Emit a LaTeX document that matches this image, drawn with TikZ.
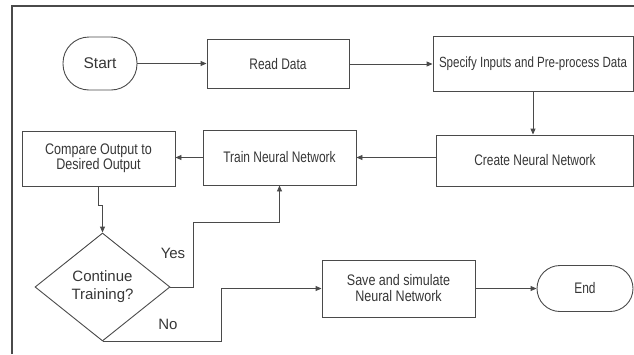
\documentclass[tikz,border=0pt]{standalone}
\usepackage{fontspec}
\setmainfont{Liberation Sans}
\newfontfamily\narrowf{Liberation Sans}[FakeStretch=0.78]
\newfontfamily\narrowg{Liberation Sans}[FakeStretch=0.82]
\usetikzlibrary{arrows.meta,shapes.geometric}
\definecolor{linec}{HTML}{4A4A4A}
\definecolor{textc}{HTML}{363636}
\tikzset{
  box/.style={draw=linec, line width=0.9pt, rectangle, inner sep=0pt, align=center, text=textc,
    font=\narrowf\fontsize{15.3}{16}\selectfont},
  term/.style={box, rounded corners=23pt, font=\fontsize{15.5}{18}\selectfont},
  decis/.style={draw=linec, line width=0.9pt, diamond, aspect=1.25, inner sep=0pt, align=center, text=textc,
    minimum width=135pt, minimum height=108pt, font=\fontsize{15}{18}\selectfont},
  conn/.style={draw=linec, line width=0.9pt, -{Triangle[length=6pt,width=5pt]}},
  lbl/.style={text=textc, font=\fontsize{15}{18}\selectfont, inner sep=0pt}
}
\begin{document}
\begin{tikzpicture}[x=1pt,y=-1pt]
\useasboundingbox (0,0) rectangle (634,354);
\draw[linec, line width=1.1pt] (12,354) -- (12,6) -- (634,6);
\node[term, minimum width=74pt, minimum height=53pt, rounded corners=26pt] (start) at (100,63.5) {Start};
\node[box, minimum width=142pt, minimum height=49pt] (read) at (278,64) {Read Data};
\node[box, minimum width=200pt, minimum height=55pt, font=\narrowf\fontsize{14.8}{16}\selectfont] (spec) at (533,63.5) {Specify Inputs and Pre-process Data};
\node[box, minimum width=197pt, minimum height=51pt] (create) at (535,160.5) {Create Neural Network};
\node[box, minimum width=153pt, minimum height=55pt] (train) at (279.5,157.5) {Train Neural Network};
\node[box, minimum width=153pt, minimum height=55pt, font=\narrowg\fontsize{15.3}{15}\selectfont] (cmp) at (98.5,158.5) {Compare Output to\\Desired Output};
\node[decis] (dec) at (102.5,287) {Continue\\Training?};
\node[box, minimum width=153pt, minimum height=57pt, font=\narrowg\fontsize{15.3}{16}\selectfont] (save) at (398.5,288.5) {Save and simulate\\Neural Network};
\node[term, minimum width=96pt, minimum height=46pt, font=\narrowf\fontsize{15.3}{16}\selectfont] (end) at (585,288.5) {End};
\node[lbl] (yes) at (173,253) {Yes};
\node[lbl] (no) at (168,324) {No};
\coordinate (y1) at (193,222);
\coordinate (n1) at (221,288.5);
\draw[conn] (start.east) -- (start.east -| read.west);
\draw[conn] (read.east) -- (read.east -| spec.west);
\draw[conn] (spec.south) -- (spec.south |- create.north);
\draw[conn] (train.east -| create.west) -- (train.east);
\draw[conn] (train.west) -- (train.west -| cmp.east);
\draw[conn] (cmp.south) -- ++(0,19) -| (dec.north);
\draw[conn] (dec.east) -| (y1) -| (train.south);
\draw[conn] (dec.south) -| (n1) -- (save.west);
\draw[conn] (save.east) -- (end.west);
\end{tikzpicture}
\end{document}
